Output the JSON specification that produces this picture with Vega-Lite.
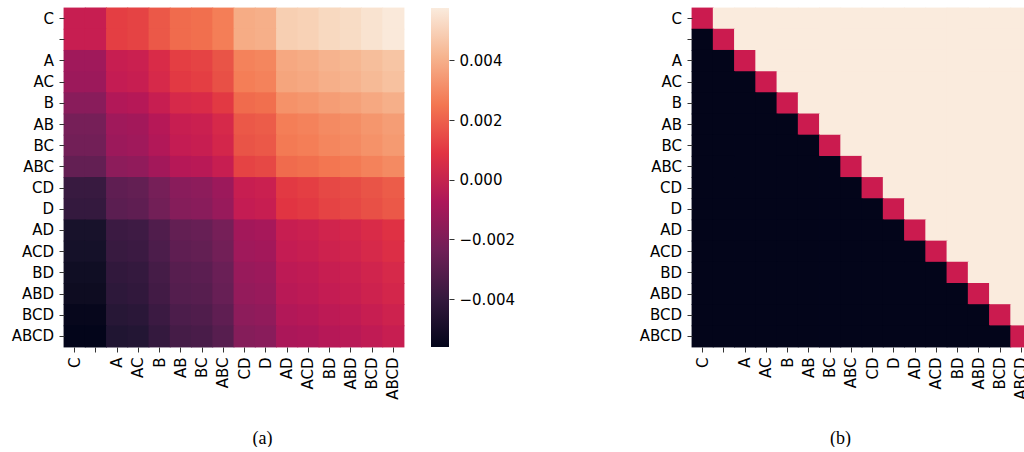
{
"$schema": "https://vega.github.io/schema/vega-lite/v6.json",
"padding": {"left": 11, "top": 7, "right": 0, "bottom": 0},
"background": "white",
"config": {"font": "DejaVu Sans", "view": {"stroke": null},
  "axis": {"domain": false, "grid": false, "labelFont": "DejaVu Sans", "labelFontSize": 15, "labelColor": "#000", "tickColor": "#333", "tickSize": 5, "tickWidth": 1, "titleFont": "Liberation Serif, Times New Roman, serif", "titleFontSize": 18, "titleFontWeight": "normal", "titleColor": "#000"}},
"datasets": {"m": [
{"r":"C","c":"C","v":0,"s":0},{"r":"C","c":"","v":0,"s":1},{"r":"C","c":"A","v":0.0011,"s":1},{"r":"C","c":"AC","v":0.0012,"s":1},{"r":"C","c":"B","v":0.0017,"s":1},{"r":"C","c":"AB","v":0.0022,"s":1},{"r":"C","c":"BC","v":0.0023,"s":1},{"r":"C","c":"ABC","v":0.0027,"s":1},{"r":"C","c":"CD","v":0.0039,"s":1},{"r":"C","c":"D","v":0.004,"s":1},{"r":"C","c":"AD","v":0.0049,"s":1},{"r":"C","c":"ACD","v":0.005,"s":1},{"r":"C","c":"BD","v":0.0052,"s":1},{"r":"C","c":"ABD","v":0.0053,"s":1},{"r":"C","c":"BCD","v":0.0055,"s":1},{"r":"C","c":"ABCD","v":0.0057,"s":1},
{"r":"","c":"C","v":0,"s":-1},{"r":"","c":"","v":0,"s":0},{"r":"","c":"A","v":0.0011,"s":1},{"r":"","c":"AC","v":0.0012,"s":1},{"r":"","c":"B","v":0.0017,"s":1},{"r":"","c":"AB","v":0.0022,"s":1},{"r":"","c":"BC","v":0.0023,"s":1},{"r":"","c":"ABC","v":0.0027,"s":1},{"r":"","c":"CD","v":0.0039,"s":1},{"r":"","c":"D","v":0.004,"s":1},{"r":"","c":"AD","v":0.0049,"s":1},{"r":"","c":"ACD","v":0.005,"s":1},{"r":"","c":"BD","v":0.0052,"s":1},{"r":"","c":"ABD","v":0.0053,"s":1},{"r":"","c":"BCD","v":0.0055,"s":1},{"r":"","c":"ABCD","v":0.0057,"s":1},
{"r":"A","c":"C","v":-0.0011,"s":-1},{"r":"A","c":"","v":-0.0011,"s":-1},{"r":"A","c":"A","v":0,"s":0},{"r":"A","c":"AC","v":0.0001,"s":1},{"r":"A","c":"B","v":0.0006,"s":1},{"r":"A","c":"AB","v":0.0011,"s":1},{"r":"A","c":"BC","v":0.0012,"s":1},{"r":"A","c":"ABC","v":0.0016,"s":1},{"r":"A","c":"CD","v":0.0028,"s":1},{"r":"A","c":"D","v":0.0029,"s":1},{"r":"A","c":"AD","v":0.0038,"s":1},{"r":"A","c":"ACD","v":0.0039,"s":1},{"r":"A","c":"BD","v":0.0041,"s":1},{"r":"A","c":"ABD","v":0.0042,"s":1},{"r":"A","c":"BCD","v":0.0044,"s":1},{"r":"A","c":"ABCD","v":0.0046,"s":1},
{"r":"AC","c":"C","v":-0.0012,"s":-1},{"r":"AC","c":"","v":-0.0012,"s":-1},{"r":"AC","c":"A","v":-0.0001,"s":-1},{"r":"AC","c":"AC","v":0,"s":0},{"r":"AC","c":"B","v":0.0005,"s":1},{"r":"AC","c":"AB","v":0.001,"s":1},{"r":"AC","c":"BC","v":0.0011,"s":1},{"r":"AC","c":"ABC","v":0.0015,"s":1},{"r":"AC","c":"CD","v":0.0027,"s":1},{"r":"AC","c":"D","v":0.0028,"s":1},{"r":"AC","c":"AD","v":0.0037,"s":1},{"r":"AC","c":"ACD","v":0.0038,"s":1},{"r":"AC","c":"BD","v":0.004,"s":1},{"r":"AC","c":"ABD","v":0.0041,"s":1},{"r":"AC","c":"BCD","v":0.0043,"s":1},{"r":"AC","c":"ABCD","v":0.0045,"s":1},
{"r":"B","c":"C","v":-0.0017,"s":-1},{"r":"B","c":"","v":-0.0017,"s":-1},{"r":"B","c":"A","v":-0.0006,"s":-1},{"r":"B","c":"AC","v":-0.0005,"s":-1},{"r":"B","c":"B","v":0,"s":0},{"r":"B","c":"AB","v":0.0005,"s":1},{"r":"B","c":"BC","v":0.0006,"s":1},{"r":"B","c":"ABC","v":0.001,"s":1},{"r":"B","c":"CD","v":0.0022,"s":1},{"r":"B","c":"D","v":0.0023,"s":1},{"r":"B","c":"AD","v":0.0032,"s":1},{"r":"B","c":"ACD","v":0.0033,"s":1},{"r":"B","c":"BD","v":0.0035,"s":1},{"r":"B","c":"ABD","v":0.0036,"s":1},{"r":"B","c":"BCD","v":0.0038,"s":1},{"r":"B","c":"ABCD","v":0.004,"s":1},
{"r":"AB","c":"C","v":-0.0022,"s":-1},{"r":"AB","c":"","v":-0.0022,"s":-1},{"r":"AB","c":"A","v":-0.0011,"s":-1},{"r":"AB","c":"AC","v":-0.001,"s":-1},{"r":"AB","c":"B","v":-0.0005,"s":-1},{"r":"AB","c":"AB","v":0,"s":0},{"r":"AB","c":"BC","v":0.0001,"s":1},{"r":"AB","c":"ABC","v":0.0005,"s":1},{"r":"AB","c":"CD","v":0.0017,"s":1},{"r":"AB","c":"D","v":0.0018,"s":1},{"r":"AB","c":"AD","v":0.0027,"s":1},{"r":"AB","c":"ACD","v":0.0028,"s":1},{"r":"AB","c":"BD","v":0.003,"s":1},{"r":"AB","c":"ABD","v":0.0031,"s":1},{"r":"AB","c":"BCD","v":0.0033,"s":1},{"r":"AB","c":"ABCD","v":0.0035,"s":1},
{"r":"BC","c":"C","v":-0.0023,"s":-1},{"r":"BC","c":"","v":-0.0023,"s":-1},{"r":"BC","c":"A","v":-0.0012,"s":-1},{"r":"BC","c":"AC","v":-0.0011,"s":-1},{"r":"BC","c":"B","v":-0.0006,"s":-1},{"r":"BC","c":"AB","v":-0.0001,"s":-1},{"r":"BC","c":"BC","v":0,"s":0},{"r":"BC","c":"ABC","v":0.0004,"s":1},{"r":"BC","c":"CD","v":0.0016,"s":1},{"r":"BC","c":"D","v":0.0017,"s":1},{"r":"BC","c":"AD","v":0.0026,"s":1},{"r":"BC","c":"ACD","v":0.0027,"s":1},{"r":"BC","c":"BD","v":0.0029,"s":1},{"r":"BC","c":"ABD","v":0.003,"s":1},{"r":"BC","c":"BCD","v":0.0032,"s":1},{"r":"BC","c":"ABCD","v":0.0034,"s":1},
{"r":"ABC","c":"C","v":-0.0027,"s":-1},{"r":"ABC","c":"","v":-0.0027,"s":-1},{"r":"ABC","c":"A","v":-0.0016,"s":-1},{"r":"ABC","c":"AC","v":-0.0015,"s":-1},{"r":"ABC","c":"B","v":-0.001,"s":-1},{"r":"ABC","c":"AB","v":-0.0005,"s":-1},{"r":"ABC","c":"BC","v":-0.0004,"s":-1},{"r":"ABC","c":"ABC","v":0,"s":0},{"r":"ABC","c":"CD","v":0.0012,"s":1},{"r":"ABC","c":"D","v":0.0013,"s":1},{"r":"ABC","c":"AD","v":0.0022,"s":1},{"r":"ABC","c":"ACD","v":0.0023,"s":1},{"r":"ABC","c":"BD","v":0.0025,"s":1},{"r":"ABC","c":"ABD","v":0.0026,"s":1},{"r":"ABC","c":"BCD","v":0.0028,"s":1},{"r":"ABC","c":"ABCD","v":0.003,"s":1},
{"r":"CD","c":"C","v":-0.0039,"s":-1},{"r":"CD","c":"","v":-0.0039,"s":-1},{"r":"CD","c":"A","v":-0.0028,"s":-1},{"r":"CD","c":"AC","v":-0.0027,"s":-1},{"r":"CD","c":"B","v":-0.0022,"s":-1},{"r":"CD","c":"AB","v":-0.0017,"s":-1},{"r":"CD","c":"BC","v":-0.0016,"s":-1},{"r":"CD","c":"ABC","v":-0.0012,"s":-1},{"r":"CD","c":"CD","v":0,"s":0},{"r":"CD","c":"D","v":0.0001,"s":1},{"r":"CD","c":"AD","v":0.001,"s":1},{"r":"CD","c":"ACD","v":0.0011,"s":1},{"r":"CD","c":"BD","v":0.0013,"s":1},{"r":"CD","c":"ABD","v":0.0014,"s":1},{"r":"CD","c":"BCD","v":0.0016,"s":1},{"r":"CD","c":"ABCD","v":0.0018,"s":1},
{"r":"D","c":"C","v":-0.004,"s":-1},{"r":"D","c":"","v":-0.004,"s":-1},{"r":"D","c":"A","v":-0.0029,"s":-1},{"r":"D","c":"AC","v":-0.0028,"s":-1},{"r":"D","c":"B","v":-0.0023,"s":-1},{"r":"D","c":"AB","v":-0.0018,"s":-1},{"r":"D","c":"BC","v":-0.0017,"s":-1},{"r":"D","c":"ABC","v":-0.0013,"s":-1},{"r":"D","c":"CD","v":-0.0001,"s":-1},{"r":"D","c":"D","v":0,"s":0},{"r":"D","c":"AD","v":0.0009,"s":1},{"r":"D","c":"ACD","v":0.001,"s":1},{"r":"D","c":"BD","v":0.0012,"s":1},{"r":"D","c":"ABD","v":0.0013,"s":1},{"r":"D","c":"BCD","v":0.0015,"s":1},{"r":"D","c":"ABCD","v":0.0017,"s":1},
{"r":"AD","c":"C","v":-0.0049,"s":-1},{"r":"AD","c":"","v":-0.0049,"s":-1},{"r":"AD","c":"A","v":-0.0038,"s":-1},{"r":"AD","c":"AC","v":-0.0037,"s":-1},{"r":"AD","c":"B","v":-0.0032,"s":-1},{"r":"AD","c":"AB","v":-0.0027,"s":-1},{"r":"AD","c":"BC","v":-0.0026,"s":-1},{"r":"AD","c":"ABC","v":-0.0022,"s":-1},{"r":"AD","c":"CD","v":-0.001,"s":-1},{"r":"AD","c":"D","v":-0.0009,"s":-1},{"r":"AD","c":"AD","v":0,"s":0},{"r":"AD","c":"ACD","v":0.0001,"s":1},{"r":"AD","c":"BD","v":0.0003,"s":1},{"r":"AD","c":"ABD","v":0.0004,"s":1},{"r":"AD","c":"BCD","v":0.0006,"s":1},{"r":"AD","c":"ABCD","v":0.0008,"s":1},
{"r":"ACD","c":"C","v":-0.005,"s":-1},{"r":"ACD","c":"","v":-0.005,"s":-1},{"r":"ACD","c":"A","v":-0.0039,"s":-1},{"r":"ACD","c":"AC","v":-0.0038,"s":-1},{"r":"ACD","c":"B","v":-0.0033,"s":-1},{"r":"ACD","c":"AB","v":-0.0028,"s":-1},{"r":"ACD","c":"BC","v":-0.0027,"s":-1},{"r":"ACD","c":"ABC","v":-0.0023,"s":-1},{"r":"ACD","c":"CD","v":-0.0011,"s":-1},{"r":"ACD","c":"D","v":-0.001,"s":-1},{"r":"ACD","c":"AD","v":-0.0001,"s":-1},{"r":"ACD","c":"ACD","v":0,"s":0},{"r":"ACD","c":"BD","v":0.0002,"s":1},{"r":"ACD","c":"ABD","v":0.0003,"s":1},{"r":"ACD","c":"BCD","v":0.0005,"s":1},{"r":"ACD","c":"ABCD","v":0.0007,"s":1},
{"r":"BD","c":"C","v":-0.0052,"s":-1},{"r":"BD","c":"","v":-0.0052,"s":-1},{"r":"BD","c":"A","v":-0.0041,"s":-1},{"r":"BD","c":"AC","v":-0.004,"s":-1},{"r":"BD","c":"B","v":-0.0035,"s":-1},{"r":"BD","c":"AB","v":-0.003,"s":-1},{"r":"BD","c":"BC","v":-0.0029,"s":-1},{"r":"BD","c":"ABC","v":-0.0025,"s":-1},{"r":"BD","c":"CD","v":-0.0013,"s":-1},{"r":"BD","c":"D","v":-0.0012,"s":-1},{"r":"BD","c":"AD","v":-0.0003,"s":-1},{"r":"BD","c":"ACD","v":-0.0002,"s":-1},{"r":"BD","c":"BD","v":0,"s":0},{"r":"BD","c":"ABD","v":0.0001,"s":1},{"r":"BD","c":"BCD","v":0.0003,"s":1},{"r":"BD","c":"ABCD","v":0.0005,"s":1},
{"r":"ABD","c":"C","v":-0.0053,"s":-1},{"r":"ABD","c":"","v":-0.0053,"s":-1},{"r":"ABD","c":"A","v":-0.0042,"s":-1},{"r":"ABD","c":"AC","v":-0.0041,"s":-1},{"r":"ABD","c":"B","v":-0.0036,"s":-1},{"r":"ABD","c":"AB","v":-0.0031,"s":-1},{"r":"ABD","c":"BC","v":-0.003,"s":-1},{"r":"ABD","c":"ABC","v":-0.0026,"s":-1},{"r":"ABD","c":"CD","v":-0.0014,"s":-1},{"r":"ABD","c":"D","v":-0.0013,"s":-1},{"r":"ABD","c":"AD","v":-0.0004,"s":-1},{"r":"ABD","c":"ACD","v":-0.0003,"s":-1},{"r":"ABD","c":"BD","v":-0.0001,"s":-1},{"r":"ABD","c":"ABD","v":0,"s":0},{"r":"ABD","c":"BCD","v":0.0002,"s":1},{"r":"ABD","c":"ABCD","v":0.0004,"s":1},
{"r":"BCD","c":"C","v":-0.0055,"s":-1},{"r":"BCD","c":"","v":-0.0055,"s":-1},{"r":"BCD","c":"A","v":-0.0044,"s":-1},{"r":"BCD","c":"AC","v":-0.0043,"s":-1},{"r":"BCD","c":"B","v":-0.0038,"s":-1},{"r":"BCD","c":"AB","v":-0.0033,"s":-1},{"r":"BCD","c":"BC","v":-0.0032,"s":-1},{"r":"BCD","c":"ABC","v":-0.0028,"s":-1},{"r":"BCD","c":"CD","v":-0.0016,"s":-1},{"r":"BCD","c":"D","v":-0.0015,"s":-1},{"r":"BCD","c":"AD","v":-0.0006,"s":-1},{"r":"BCD","c":"ACD","v":-0.0005,"s":-1},{"r":"BCD","c":"BD","v":-0.0003,"s":-1},{"r":"BCD","c":"ABD","v":-0.0002,"s":-1},{"r":"BCD","c":"BCD","v":0,"s":0},{"r":"BCD","c":"ABCD","v":0.0002,"s":1},
{"r":"ABCD","c":"C","v":-0.0057,"s":-1},{"r":"ABCD","c":"","v":-0.0057,"s":-1},{"r":"ABCD","c":"A","v":-0.0046,"s":-1},{"r":"ABCD","c":"AC","v":-0.0045,"s":-1},{"r":"ABCD","c":"B","v":-0.004,"s":-1},{"r":"ABCD","c":"AB","v":-0.0035,"s":-1},{"r":"ABCD","c":"BC","v":-0.0034,"s":-1},{"r":"ABCD","c":"ABC","v":-0.003,"s":-1},{"r":"ABCD","c":"CD","v":-0.0018,"s":-1},{"r":"ABCD","c":"D","v":-0.0017,"s":-1},{"r":"ABCD","c":"AD","v":-0.0008,"s":-1},{"r":"ABCD","c":"ACD","v":-0.0007,"s":-1},{"r":"ABCD","c":"BD","v":-0.0005,"s":-1},{"r":"ABCD","c":"ABD","v":-0.0004,"s":-1},{"r":"ABCD","c":"BCD","v":-0.0002,"s":-1},{"r":"ABCD","c":"ABCD","v":0,"s":0}
],
"cb": [{"lo": -0.0056, "hi": 0.00575, "a": 0, "b": 1}]},
"hconcat": [
 {"hconcat": [
  {"width": 340, "height": 339, "data": {"name": "m"},
   "mark": {"type": "rect", "width": {"band": 1.04}, "height": {"band": 1.04}},
   "encoding": {
    "x": {"field": "c", "type": "nominal", "scale": {"domain": ["C","","A","AC","B","AB","BC","ABC","CD","D","AD","ACD","BD","ABD","BCD","ABCD"], "paddingInner": 0, "paddingOuter": 0},
          "axis": {"title": "(a)", "labelAngle": 270, "labelPadding": 5, "labelFont": "DejaVu Sans", "labelFontSize": 15, "titleFont": "Liberation Serif, Times New Roman, serif", "titleFontSize": 18, "titleFontWeight": "normal", "titleX": 198, "titleY": 91, "titleBaseline": "middle", "titleAlign": "center"}},
    "y": {"field": "r", "type": "nominal", "scale": {"domain": ["C","","A","AC","B","AB","BC","ABC","CD","D","AD","ACD","BD","ABD","BCD","ABCD"], "paddingInner": 0, "paddingOuter": 0},
          "axis": {"title": null, "labelPadding": 5.5, "labelFont": "DejaVu Sans", "labelFontSize": 15}},
    "color": {"field": "v", "type": "quantitative", "legend": null,
          "scale": {"domain": [-0.0056, -0.0039786, -0.0023571, -0.0007357, 0.0008857, 0.0025071, 0.0041286, 0.00575],
                    "range": ["#03051a", "#35193e", "#701f57", "#ad1759", "#e13342", "#f37651", "#f6b48f", "#faebdd"], "clamp": true}}
   }},
  {"width": 18, "height": 339, "data": {"name": "cb"},
   "mark": {"type": "rect", "color": {"gradient": "linear", "x1": 0, "y1": 1, "x2": 0, "y2": 0,
     "stops": [{"offset": 0, "color": "#03051a"}, {"offset": 0.142857, "color": "#35193e"}, {"offset": 0.285714, "color": "#701f57"}, {"offset": 0.428571, "color": "#ad1759"}, {"offset": 0.571429, "color": "#e13342"}, {"offset": 0.714286, "color": "#f37651"}, {"offset": 0.857143, "color": "#f6b48f"}, {"offset": 1, "color": "#faebdd"}]}},
   "encoding": {
    "x": {"field": "a", "type": "quantitative", "scale": {"domain": [0, 1], "nice": false}, "axis": null},
    "x2": {"field": "b"},
    "y": {"field": "lo", "type": "quantitative", "scale": {"domain": [-0.0056, 0.00575], "nice": false, "zero": false},
          "axis": {"orient": "right", "values": [-0.004, -0.002, 0, 0.002, 0.004], "format": ".3f", "title": null, "labelPadding": 5, "labelFont": "DejaVu Sans", "labelFontSize": 15}},
    "y2": {"field": "hi"}
   }}
 ], "spacing": 26},
 {"width": 340, "height": 339, "data": {"name": "m"},
  "mark": {"type": "rect", "width": {"band": 1.04}, "height": {"band": 1.04}},
  "encoding": {
    "x": {"field": "c", "type": "nominal", "scale": {"domain": ["C","","A","AC","B","AB","BC","ABC","CD","D","AD","ACD","BD","ABD","BCD","ABCD"], "paddingInner": 0, "paddingOuter": 0},
          "axis": {"title": "(b)", "labelAngle": 270, "labelPadding": 5, "labelFont": "DejaVu Sans", "labelFontSize": 15, "titleFont": "Liberation Serif, Times New Roman, serif", "titleFontSize": 18, "titleFontWeight": "normal", "titleX": 148, "titleY": 91, "titleBaseline": "middle", "titleAlign": "center"}},
    "y": {"field": "r", "type": "nominal", "scale": {"domain": ["C","","A","AC","B","AB","BC","ABC","CD","D","AD","ACD","BD","ABD","BCD","ABCD"], "paddingInner": 0, "paddingOuter": 0},
          "axis": {"title": null, "labelPadding": 5.5, "labelFont": "DejaVu Sans", "labelFontSize": 15}},
    "color": {"field": "s", "type": "ordinal", "legend": null,
          "scale": {"domain": [-1, 0, 1], "range": ["#03051a", "#cb1b4f", "#faebdd"]}}
  }}
],
"spacing": 124
}
